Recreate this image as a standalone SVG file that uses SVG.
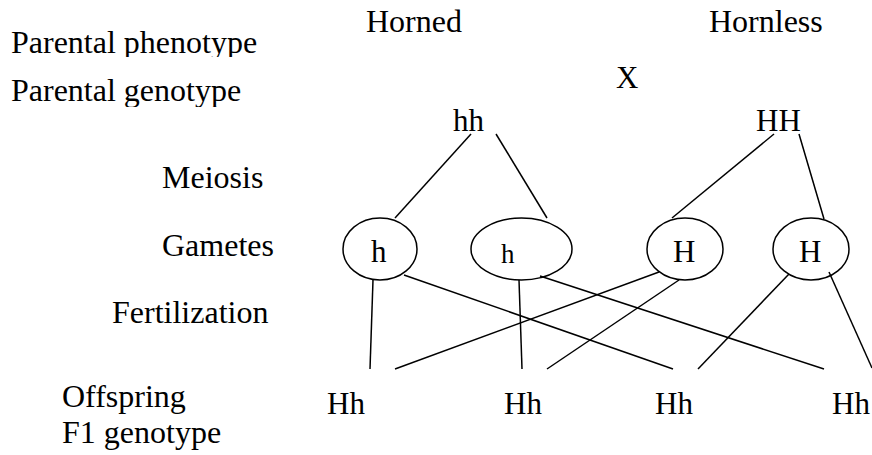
<svg xmlns="http://www.w3.org/2000/svg" width="872" height="455" viewBox="0 0 872 455">
<style>
text{font-family:"Liberation Serif","Times New Roman",serif;font-size:31px;fill:#000}
.l{font-size:32px}
.s{font-size:27px}
line,ellipse{stroke:#000;stroke-width:1.5;fill:none}
</style>
<defs>
<clipPath id="c1"><rect x="0" y="0" width="400" height="57"/></clipPath>
<clipPath id="c2"><rect x="0" y="60" width="400" height="47"/></clipPath>
</defs>
<g id="labels">
<text class="l" x="11" y="53" clip-path="url(#c1)">Parental phenotype</text>
<text class="l" x="11" y="101" clip-path="url(#c2)">Parental genotype</text>
<text class="l" x="162" y="188">Meiosis</text>
<text class="l" x="162" y="256">Gametes</text>
<text class="l" x="112" y="323">Fertilization</text>
<text class="l" x="62" y="407">Offspring</text>
<text class="l" x="62" y="443">F1 genotype</text>
</g>
<g id="phenotypes">
<text class="l" x="366" y="32">Horned</text>
<text class="l" x="709" y="32">Hornless</text>
<text x="616" y="88">X</text>
</g>
<g id="parent-hh"><text x="453" y="131">hh</text></g>
<g id="parent-HH"><text x="756" y="131">HH</text></g>
<g id="gamete-h1"><ellipse cx="380" cy="249" rx="37" ry="31"/><text x="371" y="262">h</text></g>
<g id="gamete-h2"><ellipse cx="521.5" cy="249" rx="50.5" ry="31"/><text class="s" x="501" y="263">h</text></g>
<g id="gamete-H1"><ellipse cx="685" cy="249" rx="38" ry="31"/><text x="673" y="262">H</text></g>
<g id="gamete-H2"><ellipse cx="811" cy="249" rx="38" ry="31"/><text x="799" y="262">H</text></g>
<g id="offspring1"><text x="327" y="414">Hh</text></g>
<g id="offspring2"><text x="504" y="414">Hh</text></g>
<g id="offspring3"><text x="655" y="414">Hh</text></g>
<g id="offspring4"><text x="832" y="414">Hh</text></g>
<g id="connectors">
<line x1="471" y1="134" x2="395" y2="218"/>
<line x1="496" y1="134" x2="547" y2="218"/>
<line x1="774" y1="134" x2="672" y2="218"/>
<line x1="799" y1="134" x2="824" y2="219"/>
<line x1="373" y1="280" x2="370" y2="369"/>
<line x1="404" y1="275" x2="673" y2="369"/>
<line x1="659" y1="272" x2="395" y2="369"/>
<line x1="519" y1="280" x2="522" y2="369"/>
<line x1="540" y1="276" x2="824" y2="369"/>
<line x1="679" y1="280" x2="547" y2="369"/>
<line x1="789" y1="274" x2="698" y2="369"/>
<line x1="829" y1="272" x2="872" y2="368"/>
</g>
</svg>
